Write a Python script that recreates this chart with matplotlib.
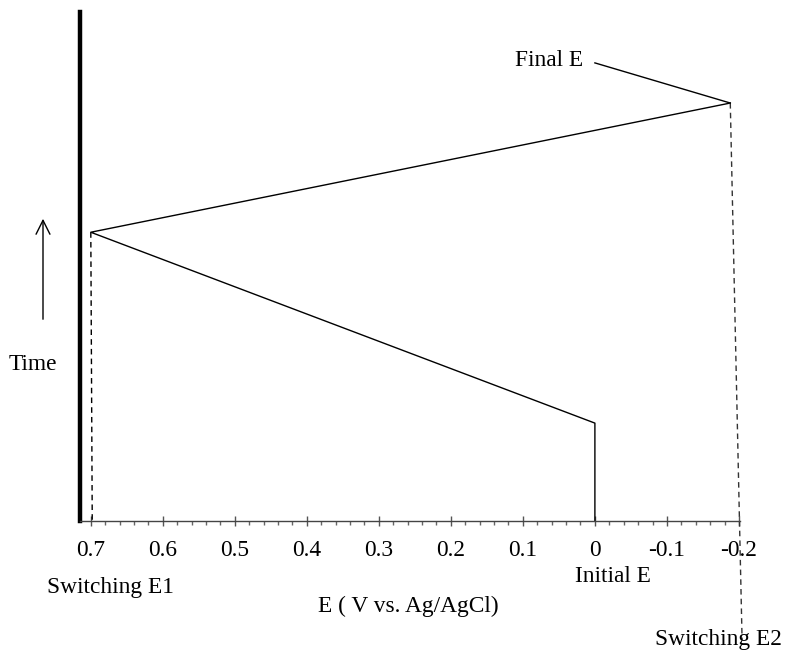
import matplotlib.pyplot as plt
import numpy as np

# potential (V vs Ag/AgCl) and time (arbitrary units) of the triangular sweep
sweep_E = [0.0, 0.0, 0.7, -0.188]
sweep_t = [0.0, 1.0, 2.95, 4.27]

# dashed drop lines for the two switching potentials
e1_E = [0.7, 0.698]
e1_t = [2.95, 0.0]
e2_E = [-0.188, -0.2044]
e2_t = [4.27, -1.215]

# leader line from the "Final E" label
final_E = [0.0, -0.188]
final_t = [4.68, 4.27]

tick_vals = [0.7, 0.6, 0.5, 0.4, 0.3, 0.2, 0.1, 0, -0.1, -0.2]
tick_labels = ['0.7', '0.6', '0.5', '0.4', '0.3', '0.2', '0.1', '0', '-0.1', '-0.2']

plt.rcParams['font.family'] = ['Liberation Serif', 'DejaVu Serif']
W, H = 787, 651
fig = plt.figure(figsize=(W / 100, H / 100), dpi=100)
ax = fig.add_axes([80 / W, 130 / H, 660 / W, 509 / H])

ax.plot(sweep_E, sweep_t, color='black', lw=1.0)
ax.plot(e1_E, e1_t, color='black', lw=1.0, ls=(0, (4, 3)), clip_on=False)
ax.plot(e2_E, e2_t, color='#333333', lw=1.0, ls=(0, (4, 3)), clip_on=False)
ax.plot(final_E, final_t, color='black', lw=1.0, clip_on=False)

ax.set_xlim(0.715, -0.2015)
ax.set_ylim(0, 5.2)

for s in ['top', 'right']:
    ax.spines[s].set_visible(False)
ax.spines['left'].set_linewidth(3.2)
ax.spines['left'].set_color('black')
ax.spines['bottom'].set_linewidth(1.0)
ax.spines['bottom'].set_color('#444444')

fs = 16.8
ax.set_yticks([])
ax.set_xticks(tick_vals)
ax.set_xticklabels(tick_labels, fontsize=fs)
ax.set_xticks(np.arange(-0.2, 0.701, 0.02), minor=True)
ax.tick_params(axis='x', which='major', direction='inout', length=7, width=1, color='#555555', pad=10)
ax.tick_params(axis='x', which='minor', direction='out', length=3, width=1, color='#666666')

fig.text(110 / W, 1 - 588 / H, 'Switching E1', ha='center', va='center', fontsize=fs)
fig.text(408 / W, 1 - 606 / H, 'E ( V vs. Ag/AgCl)', ha='center', va='center', fontsize=fs)
fig.text(613 / W, 1 - 576 / H, 'Initial E', ha='center', va='center', fontsize=fs)
fig.text(655 / W, 1 - 639 / H, 'Switching E2', ha='left', va='center', fontsize=fs)
fig.text(515 / W, 1 - 60 / H, 'Final E', ha='left', va='center', fontsize=fs)
fig.text(33 / W, 1 - 365 / H, 'Time', ha='center', va='center', fontsize=fs)

fig.patches.append(plt.matplotlib.patches.FancyArrowPatch(
    (43 / W, 1 - 322 / H), (43 / W, 1 - 216 / H), transform=fig.transFigure,
    arrowstyle='->,head_length=10,head_width=5', color='black', lw=1.0, mutation_scale=1))

fig.savefig('out.png', dpi=100)
